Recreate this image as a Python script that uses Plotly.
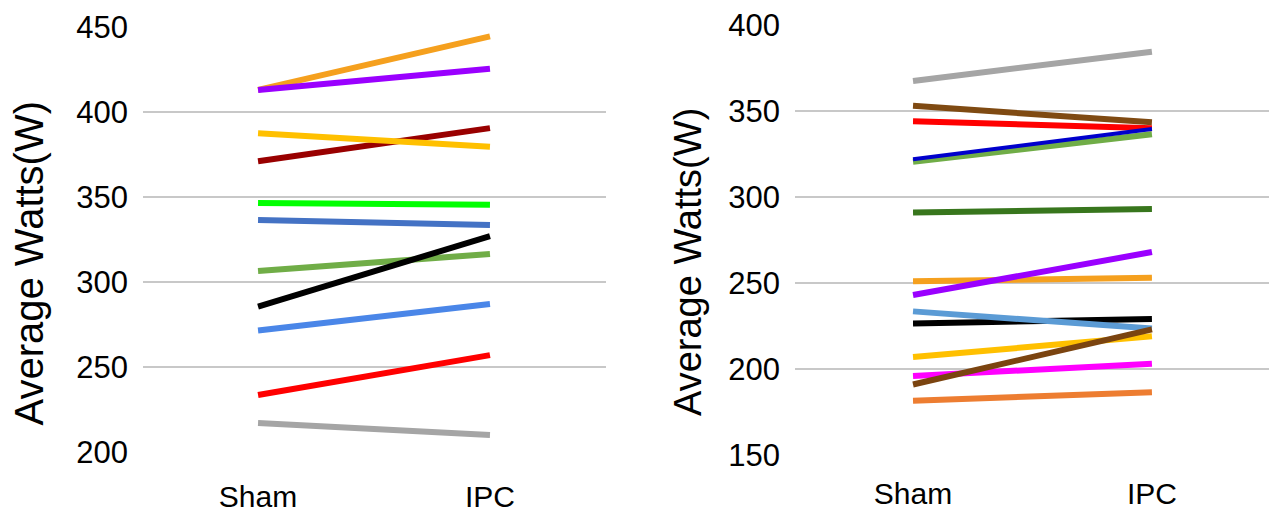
import plotly.graph_objects as go

categories = ["Sham", "IPC"]

# Left panel
left_sham = [413, 413, 371, 387.5, 346.5, 336.5, 306.5, 285.5, 271.5, 233.5, 217]
left_ipc = [444.5, 425.5, 390.5, 379.5, 345.5, 333.5, 316.5, 327, 287, 257, 210]
left_colors = ["#F5A01E", "#9A00FF", "#990000", "#FFC000", "#00FF00", "#4472C4",
               "#70AD47", "#000000", "#4A86E8", "#FF0000", "#A5A5A5"]
left_widths = [6, 6, 6, 6, 6, 6, 6, 6, 6, 6, 6]

# Right panel
right_sham = [367.5, 344, 320.5, 322, 353, 291, 251, 243, 226.5, 233.5, 207, 196, 191, 181.5]
right_ipc = [384.5, 340, 336.5, 339.5, 343.5, 293, 253, 268, 229, 223.5, 219, 203, 223, 186.5]
right_colors = ["#A5A5A5", "#FF0000", "#70AD47", "#0000CC", "#7F4A12", "#38761D", "#F5A01E",
                "#9A00FF", "#000000", "#5B9BD5", "#FFC000", "#FF00FF", "#7B4410", "#ED7D31"]
right_widths = [6, 6, 6, 4, 6, 6, 6, 6, 6, 6, 6, 6, 6, 6]

left_ticks = [200, 250, 300, 350, 400, 450]
right_ticks = [150, 200, 250, 300, 350, 400]

W, H = 1269, 517

fig = go.Figure()
for s, i, c, w in zip(left_sham, left_ipc, left_colors, left_widths):
    fig.add_trace(go.Scatter(x=categories, y=[s, i], mode="lines",
                             line=dict(color=c, width=w), xaxis="x", yaxis="y",
                             showlegend=False, hoverinfo="skip"))
for s, i, c, w in zip(right_sham, right_ipc, right_colors, right_widths):
    fig.add_trace(go.Scatter(x=categories, y=[s, i], mode="lines",
                             line=dict(color=c, width=w), xaxis="x2", yaxis="y2",
                             showlegend=False, hoverinfo="skip"))

ytick_font = dict(family="Liberation Sans Narrow, Arial Narrow, Liberation Sans, Arial", size=31, color="#000000")
xtick_font = dict(family="Liberation Sans Narrow, Arial Narrow, Liberation Sans, Arial", size=30, color="#000000")
grid = dict(showgrid=True, gridcolor="#C8C8C8", gridwidth=2, zeroline=False,
            showline=False, ticks="", automargin=False, tickfont=ytick_font)
xcommon = dict(showgrid=False, zeroline=False, showline=False, ticks="",
               automargin=False, tickfont=xtick_font, type="category",
               fixedrange=True)

fig.update_layout(
    width=W, height=H,
    margin=dict(l=0, r=0, t=0, b=0),
    paper_bgcolor="#FFFFFF", plot_bgcolor="#FFFFFF",
    xaxis=dict(domain=[143 / W, 605.7 / W], range=[-0.496, 1.499],
               ticklabelstandoff=24, **xcommon),
    xaxis2=dict(domain=[795 / W, 1.0], range=[-0.494, 1.49],
                ticklabelstandoff=21, **xcommon),
    yaxis=dict(domain=[(H - 452) / H, (H - 27) / H], range=[200, 450],
               tickvals=left_ticks, anchor="x", ticklabelstandoff=14, **grid),
    yaxis2=dict(domain=[(H - 455) / H, (H - 25) / H], range=[150, 400],
                tickvals=right_ticks, anchor="x2", ticklabelstandoff=14, **grid),
    annotations=[
        dict(text="Average Watts(W)", textangle=-90, x=28 / W, y=(H - 263.5) / H,
             xref="paper", yref="paper", showarrow=False, xanchor="center", yanchor="middle",
             font=dict(family="Liberation Sans, Arial", size=40, color="#000000")),
        dict(text="Average Watts(W)", textangle=-90, x=688 / W, y=(H - 262) / H,
             xref="paper", yref="paper", showarrow=False, xanchor="center", yanchor="middle",
             font=dict(family="Liberation Sans, Arial", size=38, color="#000000")),
    ],
)

fig.write_html("out.html")
